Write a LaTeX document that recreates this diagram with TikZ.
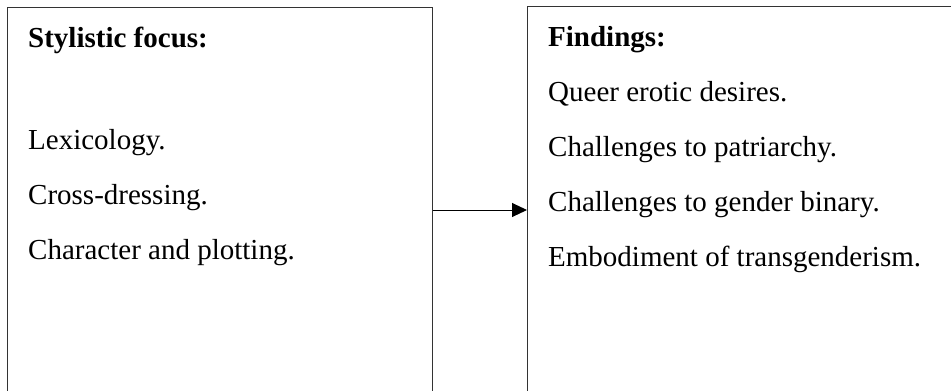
\documentclass[tikz,border=0pt]{standalone}
\usepackage{fontspec}
\setmainfont{Liberation Serif}
\usetikzlibrary{arrows.meta}
\begin{document}
\begin{tikzpicture}[x=1pt,y=-1pt,
  panel/.style={draw=black!80,line width=1.2pt,inner sep=0pt,anchor=north west},
  heading/.style={anchor=base west,inner sep=0pt,font=\fontsize{29}{35}\selectfont\bfseries},
  item/.style={anchor=base west,inner sep=0pt,font=\fontsize{29}{35}\selectfont},
  link/.style={-{Triangle[length=15pt,width=14pt]},line width=1pt}]
\useasboundingbox (0,0) rectangle (951,391);
\clip (0,0) rectangle (951,391);
% two panels; their lower parts run past the page
\node[panel,minimum width=425pt,minimum height=440pt] (focus) at (7,7) {};
\node[panel,minimum width=460pt,minimum height=440pt] (find) at (527,6) {};
% left panel text
\node[heading] (fh) at (28,47) {Stylistic focus:};
\node[item] (f1) at (28,149) {Lexicology.};
\node[item] (f2) at (28,204) {Cross-dressing.};
\node[item] (f3) at (28,259) {Character and plotting.};
% right panel text
\node[heading] (gh) at (548,46) {Findings:};
\node[item] (g1) at (548,101) {Queer erotic desires.};
\node[item] (g2) at (548,156) {Challenges to patriarchy.};
\node[item] (g3) at (548,211) {Challenges to gender binary.};
\node[item] (g4) at (548,266) {Embodiment of transgenderism.};
% connector
\draw[link] (focus.east |- 0,210) -- (find.west |- 0,210);
\end{tikzpicture}
\end{document}
